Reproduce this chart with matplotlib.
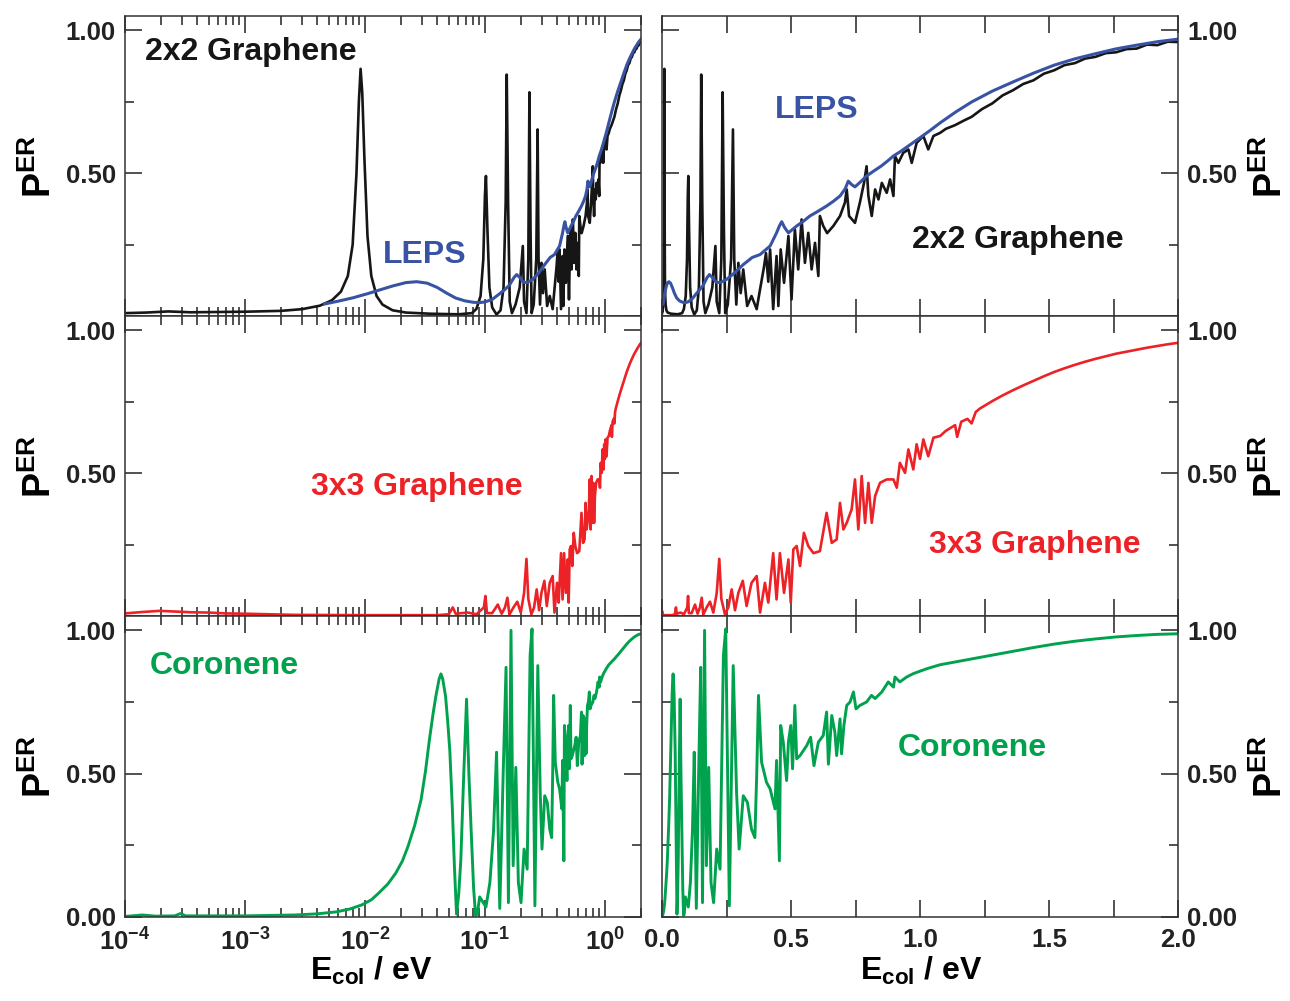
import matplotlib
matplotlib.use('Agg')
import matplotlib.pyplot as plt
from matplotlib.ticker import FixedLocator, NullFormatter

plt.rcParams['font.family'] = ['Liberation Sans', 'DejaVu Sans']
plt.rcParams['font.weight'] = 'bold'
plt.rcParams['mathtext.fontset'] = 'custom'
plt.rcParams['mathtext.rm'] = 'Liberation Sans:bold'
plt.rcParams['mathtext.bf'] = 'Liberation Sans:bold'
plt.rcParams['mathtext.it'] = 'Liberation Sans:bold:italic'
plt.rcParams['mathtext.sf'] = 'Liberation Sans:bold'

# ---------------- data ----------------
# 2x2 Graphene (black)
e_2x2 = [1e-4, 1.5e-4, 2.3e-4, 3.5e-4, 6e-4, 1e-3, 2e-3, 3e-3, 4.2e-3, 5.3e-3, 6.3e-3,
         7.2e-3, 7.9e-3, 8.5e-3, 8.9e-3, 9.2e-3, 9.5e-3, 9.9e-3, 0.0105, 0.0113, 0.0125,
         0.014, 0.017, 0.022, 0.035, 0.06, 0.078, 0.085, 0.092, 0.097, 0.1, 0.102, 0.105,
         0.109, 0.115, 0.125, 0.135, 0.143, 0.149, 0.152, 0.156, 0.161, 0.168, 0.18, 0.195,
         0.203, 0.207, 0.212, 0.222, 0.23, 0.235, 0.24, 0.245, 0.255, 0.268, 0.275, 0.28,
         0.288, 0.296, 0.305, 0.315, 0.33, 0.347, 0.367, 0.38, 0.395, 0.403, 0.412, 0.419,
         0.431, 0.444, 0.451, 0.46, 0.473, 0.49, 0.502, 0.515, 0.528, 0.541, 0.554, 0.567,
         0.58, 0.593, 0.606, 0.612, 0.625, 0.64, 0.664, 0.69, 0.709, 0.716, 0.725, 0.748,
         0.767, 0.783, 0.793, 0.8, 0.813, 0.826, 0.839, 0.852, 0.871, 0.884, 0.897, 0.903,
         0.916, 0.935, 0.955, 0.968, 0.987, 1.013, 1.032, 1.052, 1.078, 1.1, 1.136, 1.17,
         1.2, 1.24, 1.28, 1.32, 1.36, 1.4, 1.44, 1.48, 1.52, 1.56, 1.6, 1.64, 1.68, 1.72,
         1.76, 1.8, 1.84, 1.88, 1.92, 1.96, 2.0]
p_2x2 = [0.010, 0.012, 0.016, 0.013, 0.014, 0.015, 0.018, 0.024, 0.036, 0.055, 0.085,
         0.14, 0.25, 0.50, 0.75, 0.865, 0.78, 0.55, 0.28, 0.14, 0.07,
         0.04, 0.02, 0.012, 0.008, 0.006, 0.01, 0.025, 0.07, 0.2, 0.42, 0.49, 0.3,
         0.1, 0.03, 0.005, 0.02, 0.1, 0.4, 0.845, 0.4, 0.05, 0.01, 0.04, 0.1,
         0.2, 0.245, 0.05, 0.01, 0.2, 0.783, 0.3, 0.01, 0.04, 0.2, 0.653, 0.2,
         0.04, 0.186, 0.08, 0.163, 0.035, 0.07, 0.024, 0.093, 0.17, 0.22, 0.12, 0.233,
         0.024, 0.21, 0.035, 0.233, 0.116, 0.28, 0.058, 0.303, 0.163, 0.338, 0.186, 0.291,
         0.163, 0.256, 0.14, 0.35, 0.315, 0.29, 0.315, 0.35, 0.397, 0.443, 0.35, 0.326,
         0.397, 0.466, 0.524, 0.42, 0.35, 0.443, 0.408, 0.466, 0.431, 0.478, 0.42, 0.56,
         0.536, 0.571, 0.583, 0.536, 0.606, 0.63, 0.583, 0.63, 0.641, 0.655, 0.668, 0.684,
         0.697, 0.724, 0.744, 0.772, 0.79, 0.812, 0.825, 0.848, 0.86, 0.878, 0.885, 0.901,
         0.907, 0.92, 0.923, 0.934, 0.936, 0.95, 0.948, 0.96, 0.959]

# LEPS (blue)
e_leps = [0.0046, 0.006, 0.008, 0.0105, 0.013, 0.017, 0.022, 0.027, 0.033, 0.04, 0.048,
          0.057, 0.068, 0.08, 0.09, 0.1, 0.115, 0.13, 0.147, 0.16, 0.175, 0.184, 0.195,
          0.21, 0.225, 0.25, 0.28, 0.315, 0.35, 0.38, 0.419, 0.444, 0.455, 0.464, 0.475,
          0.49, 0.522, 0.55, 0.573, 0.6, 0.638, 0.665, 0.69, 0.71, 0.722, 0.735, 0.748,
          0.77, 0.793, 0.82, 0.85, 0.875, 0.897, 0.925, 0.95, 0.975, 1.0, 1.04, 1.078,
          1.14, 1.2, 1.28, 1.36, 1.44, 1.52, 1.6, 1.68, 1.76, 1.84, 1.92, 2.0]
p_leps = [0.042, 0.052, 0.064, 0.078, 0.09, 0.105, 0.117, 0.12, 0.115, 0.1, 0.08,
          0.063, 0.053, 0.048, 0.047, 0.049, 0.058, 0.075, 0.093, 0.108, 0.135, 0.145, 0.135,
          0.118, 0.117, 0.128, 0.15, 0.18, 0.205, 0.215, 0.245, 0.291, 0.315, 0.33, 0.31,
          0.291, 0.315, 0.333, 0.35, 0.364, 0.385, 0.402, 0.42, 0.445, 0.472, 0.46, 0.452,
          0.47, 0.49, 0.507, 0.525, 0.543, 0.56, 0.576, 0.592, 0.608, 0.624, 0.65, 0.676,
          0.715, 0.749, 0.787, 0.819, 0.85, 0.878, 0.9, 0.918, 0.935, 0.948, 0.96, 0.969]

# 3x3 Graphene (red)
e_3x3 = [1e-4, 1.4e-4, 1.95e-4, 2.8e-4, 3.6e-4, 5e-4, 7e-4, 1e-3, 2.6e-3, 0.01, 0.04,
         0.05, 0.054, 0.057, 0.072, 0.085, 0.098, 0.101, 0.104, 0.115, 0.128, 0.138, 0.147,
         0.154, 0.16, 0.173, 0.186, 0.199, 0.212, 0.222, 0.23, 0.244, 0.257, 0.27, 0.283,
         0.296, 0.313, 0.328, 0.347, 0.367, 0.38, 0.399, 0.412, 0.431, 0.444, 0.457, 0.473,
         0.49, 0.499, 0.509, 0.522, 0.535, 0.55, 0.567, 0.587, 0.612, 0.638, 0.658, 0.677,
         0.69, 0.703, 0.716, 0.735, 0.748, 0.761, 0.774, 0.787, 0.8, 0.813, 0.826, 0.845,
         0.871, 0.897, 0.91, 0.922, 0.942, 0.955, 0.974, 0.987, 1.0, 1.013, 1.032, 1.052,
         1.078, 1.1, 1.136, 1.144, 1.16, 1.184, 1.2, 1.216, 1.232, 1.28, 1.32, 1.36, 1.4,
         1.44, 1.48, 1.52, 1.56, 1.6, 1.64, 1.68, 1.72, 1.76, 1.8, 1.84, 1.88, 1.92, 1.96,
         2.0]
p_3x3 = [0.009, 0.014, 0.018, 0.015, 0.013, 0.012, 0.009, 0.008, 0.004, 0.003, 0.003,
         0.006, 0.03, 0.008, 0.012, 0.006, 0.03, 0.07, 0.01, 0.01, 0.04, 0.008, 0.03,
         0.064, 0.005, 0.03, 0.05, 0.012, 0.08, 0.2, 0.06, 0.006, 0.03, 0.093, 0.02,
         0.081, 0.123, 0.035, 0.116, 0.14, 0.012, 0.116, 0.047, 0.22, 0.058, 0.22, 0.081,
         0.198, 0.047, 0.233, 0.245, 0.175, 0.291, 0.245, 0.22, 0.227, 0.361, 0.256, 0.268,
         0.396, 0.303, 0.326, 0.373, 0.478, 0.303, 0.49, 0.326, 0.466, 0.326, 0.42, 0.466,
         0.478, 0.478, 0.449, 0.536, 0.501, 0.583, 0.513, 0.601, 0.55, 0.618, 0.559, 0.624,
         0.63, 0.648, 0.668, 0.627, 0.68, 0.69, 0.674, 0.714, 0.726, 0.752, 0.772, 0.79, 0.807,
         0.823, 0.839, 0.854, 0.867, 0.879, 0.89, 0.90, 0.909, 0.918, 0.925, 0.932, 0.939,
         0.945, 0.951, 0.956]

# Coronene (green)
e_cor = [1e-4, 1.4e-4, 1.8e-4, 2.6e-4, 2.9e-4, 3.2e-4, 6e-4, 1e-3, 2.6e-3, 4e-3, 5.8e-3,
         7.5e-3, 9.4e-3, 0.0113, 0.013, 0.0155, 0.018, 0.0205, 0.0228, 0.026, 0.0294, 0.032,
         0.0345, 0.037, 0.039, 0.0415, 0.043, 0.0445, 0.047, 0.049, 0.051, 0.0535, 0.0557,
         0.058, 0.0605, 0.063, 0.066, 0.0703, 0.0735, 0.077, 0.0805, 0.0836, 0.0863, 0.0905,
         0.097, 0.102, 0.11, 0.118, 0.125, 0.129, 0.133, 0.142, 0.15, 0.157, 0.165, 0.172,
         0.181, 0.19, 0.2, 0.212, 0.225, 0.238, 0.247, 0.261, 0.276, 0.289, 0.299, 0.315,
         0.331, 0.347, 0.36, 0.367, 0.374, 0.386, 0.405, 0.419, 0.438, 0.444, 0.455, 0.46,
         0.47, 0.483, 0.49, 0.499, 0.506, 0.515, 0.522, 0.535, 0.561, 0.576, 0.589, 0.606,
         0.625, 0.638, 0.645, 0.658, 0.67, 0.677, 0.69, 0.696, 0.705, 0.716, 0.729, 0.742,
         0.752, 0.767, 0.793, 0.812, 0.826, 0.852, 0.877, 0.897, 0.903, 0.922, 0.948, 0.974,
         1.026, 1.078, 1.12, 1.16, 1.2, 1.25, 1.3, 1.36, 1.44, 1.52, 1.6, 1.68, 1.76, 1.84,
         1.92, 2.0]
p_cor = [0.002, 0.007, 0.003, 0.004, 0.012, 0.004, 0.004, 0.004, 0.007, 0.011, 0.018,
         0.028, 0.042, 0.06, 0.083, 0.115, 0.152, 0.195, 0.245, 0.32, 0.41, 0.51,
         0.62, 0.71, 0.77, 0.83, 0.848, 0.83, 0.77, 0.68, 0.58, 0.38, 0.175,
         0.01, 0.08, 0.2, 0.45, 0.76, 0.5, 0.29, 0.1, 0.005, 0.01, 0.07,
         0.05, 0.035, 0.12, 0.3, 0.575, 0.3, 0.03, 0.5, 0.871, 0.05, 1.0, 0.179,
         0.522, 0.12, 0.05, 0.237, 0.167, 0.912, 1.005, 0.039, 0.877, 0.435, 0.237, 0.423,
         0.4, 0.306, 0.277, 0.493, 0.773, 0.54, 0.47, 0.447, 0.377, 0.546, 0.196, 0.668,
         0.61, 0.476, 0.61, 0.668, 0.517, 0.738, 0.552, 0.563, 0.598, 0.627, 0.528, 0.61,
         0.633, 0.715, 0.533, 0.703, 0.645, 0.563, 0.691, 0.569, 0.668, 0.738, 0.75, 0.785,
         0.726, 0.738, 0.75, 0.773, 0.762, 0.785, 0.82, 0.802, 0.837, 0.82, 0.837, 0.849,
         0.866, 0.88, 0.887, 0.894, 0.9, 0.909, 0.917, 0.927, 0.94, 0.952, 0.962, 0.97,
         0.977, 0.982, 0.986, 0.988]

# tick labels
yticks = [0.0, 0.5, 1.0]
ytick_labels = ["0.00", "0.50", "1.00"]
log_ticks = [1e-4, 1e-3, 1e-2, 1e-1, 1e0]
log_tick_labels = [r"$\mathbf{10^{-4}}$", r"$\mathbf{10^{-3}}$", r"$\mathbf{10^{-2}}$",
                   r"$\mathbf{10^{-1}}$", r"$\mathbf{10^{0}}$"]
lin_ticks = [0.0, 0.5, 1.0, 1.5, 2.0]
lin_tick_labels = ["0.0", "0.5", "1.0", "1.5", "2.0"]

BLACK = '#161616'
BLUE = '#3953a4'
RED = '#ec2227'
GREEN = '#00a24e'

fig = plt.figure(figsize=(12.9, 10.01), dpi=100)
W, H = 1290.0, 1001.0
col_x = [125, 662]
col_w = 516
row_px = [(16, 316), (316, 616), (616, 917)]

series = [
    [(e_2x2, p_2x2, BLACK, 1.9), (e_leps, p_leps, BLUE, 2.2)],
    [(e_3x3, p_3x3, RED, 1.9)],
    [(e_cor, p_cor, GREEN, 2.1)],
]

TFS = 18.5
LFS = 23
for r in range(3):
    top, bot = row_px[r]
    for c in range(2):
        ax = fig.add_axes([col_x[c] / W, 1 - bot / H, col_w / W, (bot - top) / H])
        for (e, p, col, lw) in series[r]:
            ax.plot(e, p, color=col, lw=lw)
        ax.set_ylim(0, 1.05)
        for s in ax.spines.values():
            s.set_linewidth(1.1)
            s.set_color('#333333')
        if c == 0:
            ax.set_xscale('log')
            ax.set_xlim(1e-4, 2.0)
            ax.xaxis.set_major_locator(FixedLocator(log_ticks))
            minors = [m * d for d in log_ticks[:-1] for m in range(2, 10)] + [2.0]
            ax.xaxis.set_minor_locator(FixedLocator(minors))
            ax.tick_params(axis='x', which='major', length=12, width=1.1)
            ax.tick_params(axis='x', which='minor', length=6.5, width=1.1)
            ax.set_xticklabels(log_tick_labels if r == 2 else [])
        else:
            ax.set_xlim(0, 2.0)
            ax.xaxis.set_major_locator(FixedLocator(lin_ticks))
            ax.xaxis.set_minor_locator(FixedLocator([0.25, 0.75, 1.25, 1.75]))
            ax.tick_params(axis='x', which='both', length=12, width=1.1)
            ax.set_xticklabels(lin_tick_labels if r == 2 else [])
        ax.xaxis.set_minor_formatter(NullFormatter())
        ax.yaxis.set_major_locator(FixedLocator(yticks))
        ax.yaxis.set_minor_locator(FixedLocator([0.25, 0.75]))
        ax.tick_params(axis='y', which='major', length=12, width=1.1)
        ax.tick_params(axis='y', which='minor', length=6.5, width=1.1)
        ylabs = list(ytick_labels) if r == 2 else [""] + ytick_labels[1:]
        ax.set_yticklabels(ylabs)
        ax.tick_params(which='both', direction='in', top=True, bottom=True,
                       left=True, right=True, labelsize=TFS, pad=6.5, colors='#222222')
        ax.tick_params(axis='x', which='major', pad=8)
        if c == 0:
            ax.tick_params(axis='y', labelleft=True, labelright=False)
            ax.set_ylabel(r"$\mathbf{P^{ER}}$", fontsize=27)
            ax.yaxis.set_label_coords(-0.128, 0.5)
        else:
            ax.tick_params(axis='y', labelleft=False, labelright=True)
            ax.yaxis.set_label_position('right')
            ax.set_ylabel(r"$\mathbf{P^{ER}}$", fontsize=27)
            ax.yaxis.set_label_coords(1.145, 0.5)
        if r == 2:
            ax.set_xlabel(r"$\mathbf{E_{col}}$ / eV", fontsize=23, fontweight='bold')
            ax.xaxis.set_label_coords(0.478 if c == 0 else 0.502, -0.126)
            ax.xaxis.label.set_va('top')

        # panel annotations
        kw = dict(transform=ax.transAxes, va='center', ha='left', fontsize=LFS, fontweight='bold')
        if r == 0 and c == 0:
            ax.text(0.039, 0.88, "2x2 Graphene", color=BLACK, **kw)
            ax.text(0.50, 0.203, "LEPS", color=BLUE, **kw)
        elif r == 0 and c == 1:
            ax.text(0.219, 0.687, "LEPS", color=BLUE, **kw)
            ax.text(0.4845, 0.253, "2x2 Graphene", color=BLACK, **kw)
        elif r == 1 and c == 0:
            ax.text(0.36, 0.43, "3x3 Graphene", color=RED, **kw)
        elif r == 1 and c == 1:
            ax.text(0.517, 0.237, "3x3 Graphene", color=RED, **kw)
        elif r == 2 and c == 0:
            ax.text(0.048, 0.834, "Coronene", color=GREEN, **kw)
        else:
            ax.text(0.457, 0.561, "Coronene", color=GREEN, **kw)

fig.savefig('out.png', dpi=100)
